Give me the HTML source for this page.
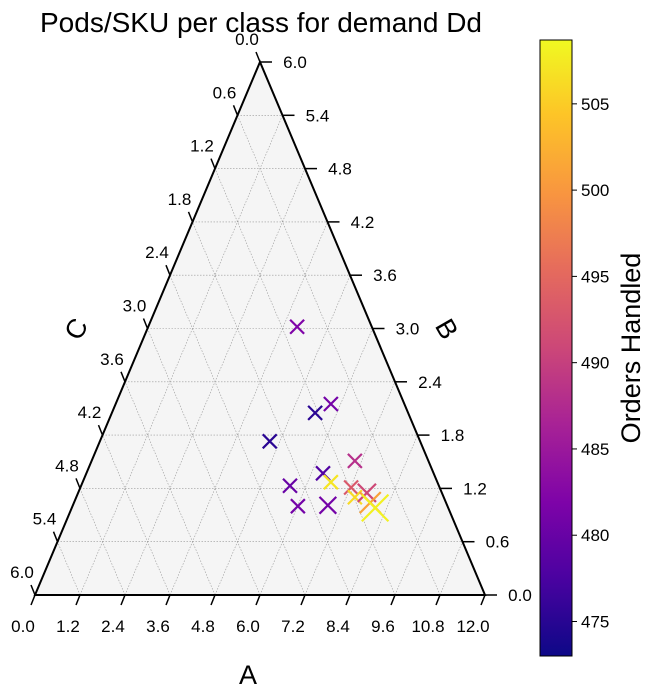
<!DOCTYPE html>
<html><head><meta charset="utf-8"><style>
body{margin:0;background:#fff;}
svg{display:block;font-family:"Liberation Sans",sans-serif;}
</style></head><body>
<svg id="chart" width="658" height="699" viewBox="0 0 658 699" xmlns="http://www.w3.org/2000/svg">
<defs>
<linearGradient id="plasma" x1="0" y1="1" x2="0" y2="0">
<stop offset="0" stop-color="#0d0887"/><stop offset="0.13" stop-color="#4c02a1"/>
<stop offset="0.25" stop-color="#7e03a8"/><stop offset="0.38" stop-color="#a92395"/>
<stop offset="0.5" stop-color="#cc4778"/><stop offset="0.63" stop-color="#e66c5c"/>
<stop offset="0.75" stop-color="#f89540"/><stop offset="0.88" stop-color="#fdc527"/>
<stop offset="1" stop-color="#f0f921"/>
</linearGradient>
</defs>
<text x="261" y="32" font-size="28" text-anchor="middle">Pods/SKU per class for demand Dd</text>
<g id="grid"></g>
<g id="axes"></g>
<g id="marks"></g>
<g id="cbar"></g>
<text x="248" y="684" font-size="27" text-anchor="middle">A</text>
<text x="445" y="330" font-size="27" text-anchor="middle" dominant-baseline="middle" transform="rotate(60 445 330)">B</text>
<text x="78" y="330" font-size="27" text-anchor="middle" dominant-baseline="middle" transform="rotate(-60 78 330)">C</text>
<text x="640" y="348" font-size="27" text-anchor="middle" transform="rotate(-90 640 348)">Orders Handled</text>
</svg>
<script>
const aVals=[3.97,5.74,5.42,4.53,7.02,6.31,6.62,5.57,6.01,6.80,7.22,7.43,7.70,7.90,8.09];
const bVals=[3.02,2.15,2.05,1.73,1.51,1.37,1.27,1.23,1.00,1.01,1.21,1.10,1.15,1.04,0.98];
const orders=[482,481,475,475,488,478,507,480,481,481,493,506,491,501,508];
const sizes=[1,1,1,1,1,1,1,1,1,1.2,1,1,1.3,1.5,1.9];
const bottomTicks=["0.0","1.2","2.4","3.6","4.8","6.0","7.2","8.4","9.6","10.8","12.0"];
const sideTicks=["0.0","0.6","1.2","1.8","2.4","3.0","3.6","4.2","4.8","5.4","6.0"];
const cbTicks=[475,480,485,490,495,500,505];
const cMin=473,cMax=508.7;
const NS="http://www.w3.org/2000/svg";
const L=[35,595],R=[485,595],T=[260,62];
function mk(tag,attrs,parent){const e=document.createElementNS(NS,tag);for(const k in attrs)e.setAttribute(k,attrs[k]);parent.appendChild(e);return e;}
function px(a,b){return [35+a/12*450+b/6*225,595-b/6*533];}
function lerp(p,q,t){return [p[0]+(q[0]-p[0])*t,p[1]+(q[1]-p[1])*t];}
const grid=document.getElementById('grid'),axes=document.getElementById('axes'),marks=document.getElementById('marks'),cb=document.getElementById('cbar');
const tri=mk('polygon',{points:[L,R,T].map(p=>p.join(',')).join(' '),fill:'#f5f5f5',stroke:'none'},grid);

for(let i=1;i<10;i++){const t=i/10;
 const segs=[[lerp(L,R,t),lerp(R,T,1-t)],[lerp(L,R,t),lerp(L,T,t)],[lerp(L,T,t),lerp(R,T,t)]];
 segs.forEach(s=>{const g=mk('line',{x1:s[0][0],y1:s[0][1],x2:s[1][0],y2:s[1][1],stroke:'#999','stroke-width':0.6,'stroke-dasharray':'1.5,1.5'},grid);
 });}
const edge=mk('polygon',{points:[L,R,T].map(p=>p.join(',')).join(' '),fill:'none',stroke:'#000','stroke-width':2,'stroke-linejoin':'miter'},axes);

for(let i=0;i<=10;i++){const t=i/10;
 let p=lerp(L,R,t);
 let tk=mk('line',{x1:p[0],y1:p[1],x2:p[0]-4,y2:p[1]+10,stroke:'#000','stroke-width':1.5},axes);
 
 let tx=mk('text',{x:p[0]-12,y:p[1]+37,'font-size':17,'text-anchor':'middle'},axes);tx.textContent=bottomTicks[i];
 
 p=lerp(R,T,t);
 tk=mk('line',{x1:p[0],y1:p[1],x2:p[0]+12,y2:p[1],stroke:'#000','stroke-width':1.5},axes);
 
 tx=mk('text',{x:p[0]+35,y:p[1]+6,'font-size':17,'text-anchor':'middle'},axes);tx.textContent=sideTicks[i];
 
 p=lerp(T,L,t);
 tk=mk('line',{x1:p[0],y1:p[1],x2:p[0]-4,y2:p[1]-10,stroke:'#000','stroke-width':1.5},axes);
 
 tx=mk('text',{x:p[0]-13,y:p[1]-17,'font-size':17,'text-anchor':'middle'},axes);tx.textContent=sideTicks[i];
 }
function plasma(v){const t=Math.max(0,Math.min(1,(v-cMin)/(cMax-cMin)));
 const st=[[13,8,135],[76,2,161],[126,3,168],[169,35,149],[204,71,120],[230,108,92],[248,149,64],[253,197,39],[240,249,33]];
 const f=t*8,i=Math.min(7,Math.floor(f)),r=f-i;const c=st[i].map((x,k)=>Math.round(x+(st[i+1][k]-x)*r));return `rgb(${c})`;}
for(let i=0;i<aVals.length;i++){const p=px(aVals[i],bVals[i]);const h=7*sizes[i];const col=plasma(orders[i]);
 const g=mk('path',{d:`M${p[0]-h},${p[1]-h}L${p[0]+h},${p[1]+h}M${p[0]-h},${p[1]+h}L${p[0]+h},${p[1]-h}`,stroke:col,'stroke-width':2.2},marks);
 }
const cbx=540,cby=40,cbw=32,cbh=616;
const rect=mk('rect',{x:cbx,y:cby,width:cbw,height:cbh,fill:'url(#plasma)',stroke:'#000','stroke-width':1},cb);

cbTicks.forEach(v=>{const y=cby+cbh-(v-cMin)/(cMax-cMin)*cbh;
 const tk=mk('line',{x1:cbx+cbw,y1:y,x2:cbx+cbw+5,y2:y,stroke:'#000','stroke-width':1},cb);
 
 const tx=mk('text',{x:cbx+cbw+9,y:y+6,'font-size':17},cb);tx.textContent=v;
 });
</script>
</body></html>
